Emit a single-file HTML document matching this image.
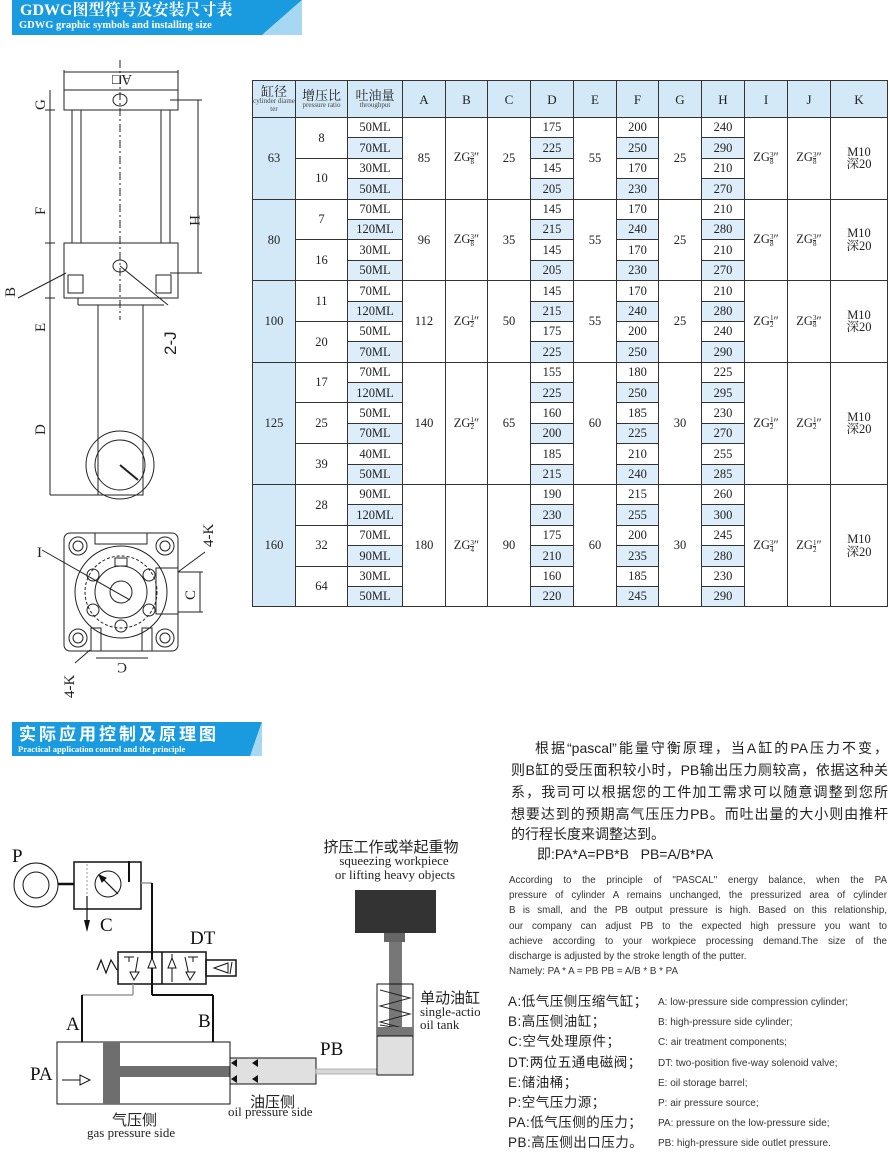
<!DOCTYPE html>
<html><head><meta charset="utf-8">
<style>
*{margin:0;padding:0;box-sizing:border-box}
body{width:890px;height:1150px;background:#fff;position:relative;overflow:hidden;font-family:"Liberation Serif","Noto Serif CJK SC",serif;color:#222}
.abs{position:absolute}
.hdr{position:absolute;background:#1a9be0;color:#fff;font-weight:bold;overflow:hidden}
table{position:absolute;left:252px;top:80px;width:635px;border-collapse:collapse;table-layout:fixed;font-size:12.5px;text-align:center}
td{border:1px solid #333;padding:0;line-height:1;white-space:nowrap;overflow:hidden}
tr.r td{height:20.4px}
.h td{background:#d4e9f7;height:37px;font-size:13px;white-space:normal}
.c0{background:#d4e9f7}
.b{background:#ddeefa}
.fr{display:inline-block;vertical-align:middle;font-size:7px;line-height:6px;text-align:center}
.fr i{display:block;font-style:normal}
.fr i:first-child{border-bottom:1px solid #333}
.sm{font-size:7px;line-height:7.5px;display:block;color:#444;word-break:break-all}
.cn{font-family:"Liberation Sans","Noto Sans CJK SC",sans-serif}
.j{text-align:justify;text-align-last:justify;white-space:nowrap}
.en div{text-align:justify;text-align-last:justify;white-space:nowrap;height:15.2px}
</style></head><body>

<div class="hdr" style="left:12px;top:0;width:252px;height:35px">
<div style="position:absolute;left:8px;top:2px;font-size:16px;line-height:18px;white-space:nowrap">GDWG图型符号及安装尺寸表</div>
<div style="position:absolute;left:7px;top:20px;font-size:10.5px;line-height:12px;white-space:nowrap">GDWG graphic symbols and installing size</div>
</div>
<svg class="abs" style="left:262px;top:0" width="40" height="36"><polygon points="0,0 40,0 0,35" fill="#1a9be0"/><polygon points="40,0 40,35 0,35" fill="#a6d7f3"/></svg>

<div class="hdr" style="left:12px;top:722px;width:240px;height:34px">
<div style="position:absolute;left:7px;top:3px;font-size:17px;line-height:19px;letter-spacing:3px;white-space:nowrap;font-family:'Liberation Sans','Noto Sans CJK SC',sans-serif">实际应用控制及原理图</div>
<div style="position:absolute;left:6px;top:22px;font-size:8.5px;line-height:10px;white-space:nowrap">Practical application control and the principle</div>
</div>
<svg class="abs" style="left:250px;top:722px" width="14" height="35"><polygon points="0,0 12,0 0,34" fill="#1a9be0"/><polygon points="12,0 12,34 0,34" fill="#a6d7f3"/></svg>

<table>
<colgroup><col style="width:43px"><col style="width:52px"><col style="width:55px"><col style="width:43px"><col style="width:42px"><col style="width:43px"><col style="width:43px"><col style="width:43px"><col style="width:42px"><col style="width:43px"><col style="width:43px"><col style="width:43px"><col style="width:43px"><col style="width:57px"></colgroup>
<tr class="h"><td>缸径<span class="sm">cylinder diameter</span></td><td>增压比<span class="sm">pressure ratio</span></td><td>吐油量<span class="sm">throughput</span></td><td>A</td><td>B</td><td>C</td><td>D</td><td>E</td><td>F</td><td>G</td><td>H</td><td>I</td><td>J</td><td>K</td></tr>

<tr class="r"><td rowspan="4" class="c0">63</td><td rowspan="2">8</td><td>50ML</td><td rowspan="4">85</td><td rowspan="4">ZG<span class="fr"><i>3</i><i>8</i></span>″</td><td rowspan="4">25</td><td>175</td><td rowspan="4">55</td><td>200</td><td rowspan="4">25</td><td>240</td><td rowspan="4">ZG<span class="fr"><i>3</i><i>8</i></span>″</td><td rowspan="4">ZG<span class="fr"><i>3</i><i>8</i></span>″</td><td rowspan="4">M10<br>深20</td></tr>
<tr class="r"><td class="b">70ML</td><td class="b">225</td><td class="b">250</td><td class="b">290</td></tr>
<tr class="r"><td rowspan="2">10</td><td>30ML</td><td>145</td><td>170</td><td>210</td></tr>
<tr class="r"><td class="b">50ML</td><td class="b">205</td><td class="b">230</td><td class="b">270</td></tr>

<tr class="r"><td rowspan="4" class="c0">80</td><td rowspan="2">7</td><td>70ML</td><td rowspan="4">96</td><td rowspan="4">ZG<span class="fr"><i>3</i><i>8</i></span>″</td><td rowspan="4">35</td><td>145</td><td rowspan="4">55</td><td>170</td><td rowspan="4">25</td><td>210</td><td rowspan="4">ZG<span class="fr"><i>3</i><i>8</i></span>″</td><td rowspan="4">ZG<span class="fr"><i>3</i><i>8</i></span>″</td><td rowspan="4">M10<br>深20</td></tr>
<tr class="r"><td class="b">120ML</td><td class="b">215</td><td class="b">240</td><td class="b">280</td></tr>
<tr class="r"><td rowspan="2">16</td><td>30ML</td><td>145</td><td>170</td><td>210</td></tr>
<tr class="r"><td class="b">50ML</td><td class="b">205</td><td class="b">230</td><td class="b">270</td></tr>

<tr class="r"><td rowspan="4" class="c0">100</td><td rowspan="2">11</td><td>70ML</td><td rowspan="4">112</td><td rowspan="4">ZG<span class="fr"><i>1</i><i>2</i></span>″</td><td rowspan="4">50</td><td>145</td><td rowspan="4">55</td><td>170</td><td rowspan="4">25</td><td>210</td><td rowspan="4">ZG<span class="fr"><i>1</i><i>2</i></span>″</td><td rowspan="4">ZG<span class="fr"><i>3</i><i>8</i></span>″</td><td rowspan="4">M10<br>深20</td></tr>
<tr class="r"><td class="b">120ML</td><td class="b">215</td><td class="b">240</td><td class="b">280</td></tr>
<tr class="r"><td rowspan="2">20</td><td>50ML</td><td>175</td><td>200</td><td>240</td></tr>
<tr class="r"><td class="b">70ML</td><td class="b">225</td><td class="b">250</td><td class="b">290</td></tr>

<tr class="r"><td rowspan="6" class="c0">125</td><td rowspan="2">17</td><td>70ML</td><td rowspan="6">140</td><td rowspan="6">ZG<span class="fr"><i>1</i><i>2</i></span>″</td><td rowspan="6">65</td><td>155</td><td rowspan="6">60</td><td>180</td><td rowspan="6">30</td><td>225</td><td rowspan="6">ZG<span class="fr"><i>1</i><i>2</i></span>″</td><td rowspan="6">ZG<span class="fr"><i>1</i><i>2</i></span>″</td><td rowspan="6">M10<br>深20</td></tr>
<tr class="r"><td class="b">120ML</td><td class="b">225</td><td class="b">250</td><td class="b">295</td></tr>
<tr class="r"><td rowspan="2">25</td><td>50ML</td><td>160</td><td>185</td><td>230</td></tr>
<tr class="r"><td class="b">70ML</td><td class="b">200</td><td class="b">225</td><td class="b">270</td></tr>
<tr class="r"><td rowspan="2">39</td><td>40ML</td><td>185</td><td>210</td><td>255</td></tr>
<tr class="r"><td class="b">50ML</td><td class="b">215</td><td class="b">240</td><td class="b">285</td></tr>

<tr class="r"><td rowspan="6" class="c0">160</td><td rowspan="2">28</td><td>90ML</td><td rowspan="6">180</td><td rowspan="6">ZG<span class="fr"><i>3</i><i>4</i></span>″</td><td rowspan="6">90</td><td>190</td><td rowspan="6">60</td><td>215</td><td rowspan="6">30</td><td>260</td><td rowspan="6">ZG<span class="fr"><i>3</i><i>4</i></span>″</td><td rowspan="6">ZG<span class="fr"><i>1</i><i>2</i></span>″</td><td rowspan="6">M10<br>深20</td></tr>
<tr class="r"><td class="b">120ML</td><td class="b">230</td><td class="b">255</td><td class="b">300</td></tr>
<tr class="r"><td rowspan="2">32</td><td>70ML</td><td>175</td><td>200</td><td>245</td></tr>
<tr class="r"><td class="b">90ML</td><td class="b">210</td><td class="b">235</td><td class="b">280</td></tr>
<tr class="r"><td rowspan="2">64</td><td>30ML</td><td>160</td><td>185</td><td>230</td></tr>
<tr class="r"><td class="b">50ML</td><td class="b">220</td><td class="b">245</td><td class="b">290</td></tr>
</table>

<!-- left technical drawing -->
<svg class="abs" style="left:0;top:60px" width="245" height="640" font-family="Liberation Serif" font-size="15" fill="none" stroke="#222" stroke-width="1">
<line x1="64" y1="12" x2="178" y2="12"/><line x1="64" y1="10" x2="64" y2="30"/><line x1="178" y1="10" x2="178" y2="30"/>
<text transform="translate(132 15) rotate(180)" fill="#222" stroke="none">A□</text>
<rect x="64" y="30" width="114" height="20"/>
<ellipse cx="120" cy="40" rx="7" ry="6"/>
<rect x="72" y="50" width="9" height="133"/><rect x="161" y="50" width="9" height="133"/>
<line x1="120" y1="0" x2="120" y2="260" stroke-dasharray="8 3 2 3"/>
<rect x="64" y="183" width="114" height="55"/>
<ellipse cx="120" cy="206" rx="7" ry="6"/>
<rect x="68" y="215" width="15" height="18"/><rect x="156" y="215" width="15" height="18"/>
<line x1="78" y1="238" x2="78" y2="245"/><line x1="78" y1="245" x2="164" y2="245"/>
<rect x="98" y="245" width="45" height="190"/>
<circle cx="120" cy="405" r="34"/><circle cx="120" cy="405" r="25"/>
<line x1="120" y1="405" x2="138" y2="420" stroke-width="2"/>
<line x1="50" y1="30" x2="50" y2="435"/>
<line x1="45" y1="50" x2="55" y2="50"/><line x1="45" y1="183" x2="55" y2="183"/><line x1="45" y1="238" x2="55" y2="238"/>
<line x1="50" y1="435" x2="98" y2="435"/>
<line x1="198" y1="40" x2="198" y2="213"/><line x1="170" y1="40" x2="202" y2="40"/><line x1="170" y1="213" x2="202" y2="213"/>
<line x1="18" y1="238" x2="66" y2="213"/>
<line x1="120" y1="206" x2="168" y2="245"/>
<g fill="#222" stroke="none">
<text transform="translate(45 50) rotate(-90)">G</text>
<text transform="translate(45 155) rotate(-90)">F</text>
<text transform="translate(45 272) rotate(-90)">E</text>
<text transform="translate(45 375) rotate(-90)">D</text>
<text transform="translate(190 155) rotate(90)">H</text>
<text transform="translate(15 237) rotate(-90)">B</text>
<text transform="translate(176 295) rotate(-90)" font-size="17" font-family="Liberation Sans">2-J</text>
<text transform="translate(213 487) rotate(-90)">4-K</text>
<text transform="translate(74 638) rotate(-90)">4-K</text>
<text transform="translate(195 540) rotate(-90)">C</text>
<text transform="translate(127 603) rotate(180)">C</text>
<text x="37" y="497">I</text>
</g>
<rect x="64" y="473" width="114" height="118" rx="6"/>
<rect x="95" y="473" width="52" height="11"/>
<circle cx="121" cy="532" r="46"/><circle cx="121" cy="532" r="26"/><circle cx="121" cy="532" r="11"/>
<circle cx="121" cy="532" r="36" stroke-dasharray="3 2"/>
<circle cx="78" cy="486" r="9"/><circle cx="78" cy="486" r="5"/><circle cx="165" cy="486" r="9"/><circle cx="165" cy="486" r="5"/>
<circle cx="78" cy="578" r="9"/><circle cx="78" cy="578" r="5"/><circle cx="165" cy="578" r="9"/><circle cx="165" cy="578" r="5"/>
<circle cx="93" cy="515" r="6"/><circle cx="149" cy="515" r="6"/><circle cx="93" cy="550" r="6"/><circle cx="149" cy="550" r="6"/><circle cx="121" cy="566" r="6"/>
<rect x="115" y="498" width="12" height="8"/>
<rect x="156" y="508" width="22" height="46"/><rect x="91" y="568" width="10" height="23"/><rect x="142" y="568" width="10" height="23"/>
<line x1="178" y1="512" x2="203" y2="512"/><line x1="178" y1="552" x2="203" y2="552"/><line x1="200" y1="512" x2="200" y2="552"/>
<line x1="96" y1="598" x2="148" y2="598"/>
<line x1="42" y1="490" x2="130" y2="540"/>
<line x1="178" y1="512" x2="205" y2="492"/><line x1="90" y1="590" x2="75" y2="603"/>
</svg>

<!-- principle diagram -->
<svg class="abs" style="left:0;top:830px" width="480" height="320" fill="none" stroke="#111" stroke-width="2" font-family="Liberation Serif">
<circle cx="36" cy="55" r="22" stroke-width="1"/><circle cx="36" cy="55" r="13" stroke-width="1"/>
<line x1="58" y1="54" x2="74" y2="54" stroke-width="2.5"/>
<rect x="74" y="32" width="67" height="47" stroke-width="1.5"/>
<line x1="87" y1="34" x2="87" y2="66" stroke="#999" stroke-width="1" stroke-dasharray="2 2"/>
<circle cx="108" cy="54" r="13" stroke-width="1"/><line x1="99" y1="45" x2="118" y2="64" stroke-width="1.2"/><polygon points="99,45 106,48 102,52" fill="#111" stroke-width="1"/>
<line x1="129" y1="31" x2="129" y2="52"/>
<line x1="87" y1="66" x2="87" y2="100" stroke-width="1.2"/><polygon points="84,90 90,90 87,102" fill="#111" stroke="none"/>
<line x1="141" y1="53" x2="152" y2="53" stroke="#999" stroke-width="1.5"/>
<line x1="152" y1="53" x2="152" y2="165"/>
<rect x="118" y="122" width="88" height="32" stroke-width="1.5"/><line x1="162" y1="122" x2="162" y2="154" stroke-width="1.5"/>
<rect x="206" y="130" width="30" height="16" stroke-width="1.5"/>
<path d="M97,140 L101,130 L106,143 L111,130 L117,140" stroke-width="1.2"/>
<g stroke-width="1"><line x1="124" y1="127" x2="134" y2="127"/><line x1="129" y1="127" x2="129" y2="132"/><line x1="138" y1="127" x2="134" y2="150"/><polygon points="130,142 139,142 134,150" fill="#fff"/>
<line x1="152" y1="124" x2="152" y2="152"/><polygon points="148,138 156,138 152,128" fill="#fff"/>
<line x1="172" y1="124" x2="172" y2="152"/><polygon points="168,138 176,138 172,128" fill="#fff"/>
<line x1="188" y1="127" x2="198" y2="127"/><line x1="193" y1="127" x2="193" y2="132"/><line x1="185" y1="127" x2="190" y2="150"/><polygon points="186,142 195,142 190,150" fill="#fff"/>
<polygon points="228,133 228,143 214,138" fill="#fff"/><line x1="232" y1="132" x2="230" y2="144"/></g>
<line x1="152" y1="154" x2="152" y2="165"/><line x1="152" y1="165" x2="213" y2="165"/><line x1="213" y1="165" x2="213" y2="212"/>
<line x1="133" y1="154" x2="133" y2="165" stroke="#999" stroke-width="1.5"/><line x1="133" y1="165" x2="82" y2="165" stroke="#999" stroke-width="1.5"/><line x1="82" y1="165" x2="82" y2="212"/>
<rect x="57" y="212" width="173" height="62" stroke-width="1"/>
<rect x="103" y="212" width="17" height="62" fill="#6e6e6e" stroke="none"/>
<rect x="120" y="236" width="117" height="11" fill="#6e6e6e" stroke="none"/>
<line x1="62" y1="250" x2="82" y2="250" stroke-width="1"/><polygon points="80,245 80,255 90,250" fill="#fff" stroke-width="1"/>
<rect x="230" y="228" width="86" height="26" fill="#e0e0e0" stroke-width="1"/>
<g fill="#111" stroke="none"><polygon points="231,233 237,229 237,237"/><polygon points="231,249 237,245 237,253"/><polygon points="252,233 258,229 258,237"/><polygon points="252,249 258,245 258,253"/></g>
<rect x="316" y="239" width="62" height="5" fill="#d8d8d8" stroke="#999" stroke-width="0.7"/>
<rect x="355" y="60" width="81" height="43" fill="#333" stroke="none"/>
<rect x="384" y="103" width="21" height="9" fill="#666" stroke="none"/>
<rect x="389" y="112" width="13" height="85" fill="#777" stroke="none"/>
<rect x="377" y="154" width="36" height="91" stroke-width="1"/>
<path d="M380,160 L410,168 L380,176 L410,184 L380,192 L410,200 L380,195" stroke-width="1" stroke="#222"/>
<rect x="377" y="197" width="36" height="9" fill="#777" stroke="none"/>
<rect x="377" y="206" width="36" height="39" fill="#e0e0e0" stroke="#111" stroke-width="1"/>
<g fill="#111" stroke="none" font-size="19">
<text x="12" y="32">P</text><text x="100" y="101">C</text><text x="190" y="114">DT</text>
<text x="66" y="200">A</text><text x="198" y="197">B</text><text x="30" y="250">PA</text><text x="320" y="225">PB</text>
</g>
<g fill="#222" stroke="none" font-size="13">
<text x="391" y="22" text-anchor="middle" font-family="Liberation Sans,Noto Sans CJK SC" font-size="15">挤压工作或举起重物</text>
<text x="394" y="35" text-anchor="middle">squeezing workpiece</text>
<text x="395" y="49" text-anchor="middle">or lifting heavy objects</text>
<text x="420" y="173" font-family="Liberation Sans,Noto Sans CJK SC" font-size="15">单动油缸</text>
<text x="420" y="186">single-action</text><text x="420" y="199">oil tank</text>
<text x="250" y="277" font-family="Liberation Sans,Noto Sans CJK SC" font-size="15">油压侧</text>
<text x="228" y="286">oil pressure side</text>
<text x="112" y="295" font-family="Liberation Sans,Noto Sans CJK SC" font-size="15">气压侧</text>
<text x="87" y="307">gas pressure side</text>
</g>
</svg>

<div class="abs cn" style="left:511px;top:737px;width:377px;font-size:14px;line-height:22px;color:#222">
<div class="j" style="padding-left:24px">根据“pascal”能量守衡原理，当A缸的PA压力不变，</div>
<div class="j">则B缸的受压面积较小时，PB输出压力厕较高，依据这种关</div>
<div class="j">系，我司可以根据您的工件加工需求可以随意调整到您所</div>
<div class="j">想要达到的预期高气压压力PB。而吐出量的大小则由推杆</div>
<div style="line-height:19px">的行程长度来调整达到。</div>
<div style="padding-left:26px;line-height:20px">即:PA*A=PB*B&nbsp;&nbsp;&nbsp;PB=A/B*PA</div>
</div>

<div class="abs en" style="left:509px;top:873px;width:378px;font-family:'Liberation Sans',sans-serif;font-size:9.8px;line-height:15.2px;color:#333">
<div>According to the principle of "PASCAL" energy balance, when the PA</div>
<div>pressure of cylinder A remains unchanged, the pressurized area of cylinder</div>
<div>B is small, and the PB output pressure is high. Based on this relationship,</div>
<div>our company can adjust PB to the expected high pressure you want to</div>
<div>achieve according to your workpiece processing demand.The size of the</div>
<div style="text-align-last:left">discharge is adjusted by the stroke length of the putter.</div>
<div style="text-align-last:left">Namely: PA * A = PB PB = A/B * B * PA</div>
</div>

<div class="abs cn" style="left:508px;top:992px;font-size:13.5px;line-height:20.2px;color:#222;letter-spacing:0.5px">
A:低气压侧压缩气缸；<br>B:高压侧油缸；<br>C:空气处理原件；<br>DT:两位五通电磁阀；<br>E:储油桶；<br>P:空气压力源；<br>PA:低气压侧的压力；<br>PB:高压侧出口压力。
</div>
<div class="abs" style="left:658px;top:993px;font-family:'Liberation Sans',sans-serif;font-size:10px;line-height:20.2px;color:#333">
A: low-pressure side compression cylinder;<br>B: high-pressure side cylinder;<br>C: air treatment components;<br>DT: two-position five-way solenoid valve;<br>E: oil storage barrel;<br>P: air pressure source;<br>PA: pressure on the low-pressure side;<br>PB: high-pressure side outlet pressure.
</div>
</body></html>
